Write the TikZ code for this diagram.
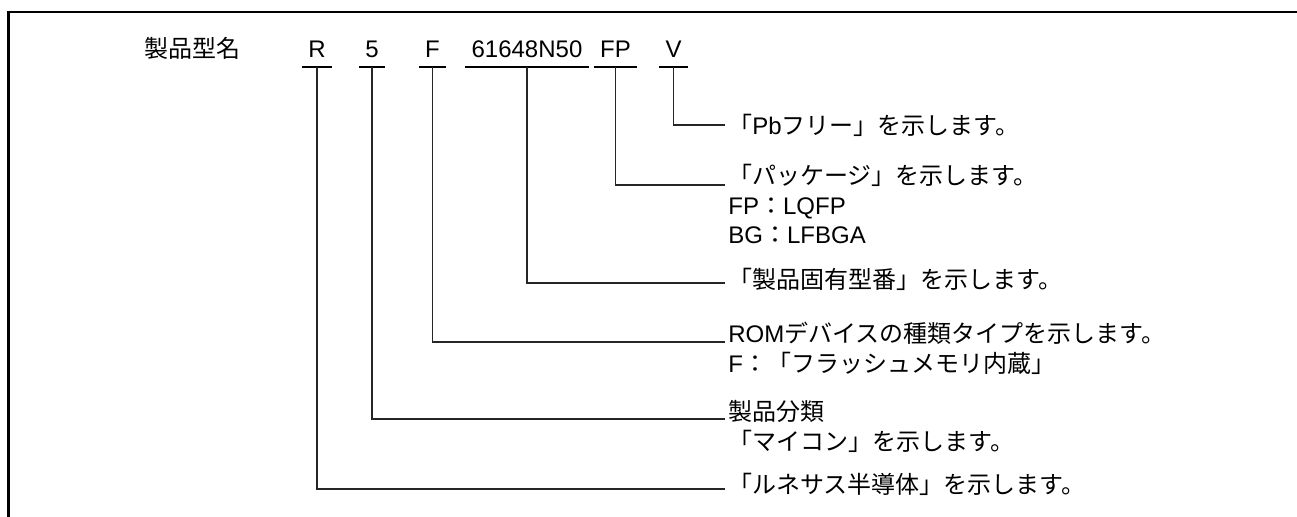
\documentclass[tikz,border=0pt]{standalone}
\usepackage{fontspec}
\setmainfont{Liberation Sans}
\newfontfamily\jpfont{Noto Sans CJK JP}
\newcommand{\ja}[1]{{\jpfont #1}}
\newcommand{\labelfont}{\fontsize{12}{14.75}\selectfont\lineskiplimit=-20pt\relax}

\begin{document}
\begin{tikzpicture}[x=0.5pt, y=-0.5pt,
    % Styles
    every node/.style={inner sep=0pt, font=\labelfont},
    part/.style={anchor=base, inner xsep=2.5pt},
    desc/.style={anchor=base west, align=left},
    bar/.style={line width=1.1pt, line cap=rect},
    lead/.style={line width=0.55pt, color=black!85},
    frame/.style={line width=1.2pt},
  ]
  \useasboundingbox (0,0) rectangle (1297,517);

  % Frame (cut off at right and bottom)
  \draw[frame] (1310,12) -- (8.5,12) -- (8.5,530);

  % Header
  \node[anchor=base] (title) at (192,58) {\ja{製品型名}};

  % Parts of the type name
  \node[part] (pR)   at (317,58)   {R};
  \node[part] (p5)   at (372,58)   {5};
  \node[part] (pF)   at (432.5,58) {F};
  \node[part] (pNum) at (527,58)   {61648N50};
  \node[part] (pFP)  at (615.5,58) {FP};
  \node[part] (pV)   at (673.5,58) {V};

  \foreach \p in {pR, p5, pF, pNum, pFP, pV} {
    \draw[bar] ([yshift=-4.5pt]\p.base west) -- ([yshift=-4.5pt]\p.base east);
    \coordinate (t\p) at ([yshift=-4.5pt]\p.base);
  }

  % Line ends
  \coordinate (eV)   at (725,125);
  \coordinate (eFP)  at (725,185);
  \coordinate (eNum) at (725,283);
  \coordinate (eF)   at (725,342);
  \coordinate (e5)   at (725,419);
  \coordinate (eR)   at (725,489);

  % Descriptions (base = baseline of the last line)
  \node[desc] (dV)   at (728,135)   {\ja{「}Pb\ja{フリー」を示します。}};
  \node[desc] (dFP)  at (728,244)   {\ja{「パッケージ」を示します。}\\FP\ja{：}LQFP\\BG\ja{：}LFBGA};
  \node[desc] (dNum) at (728,289)   {\ja{「製品固有型番」を示します。}};
  \node[desc] (dF)   at (728,372.5) {ROM\ja{デバイスの種類タイプを示します。}\\F\ja{：「フラッシュメモリ内蔵」}};
  \node[desc] (d5)   at (728,450.5) {\ja{製品分類}\\\ja{「マイコン」を示します。}};
  \node[desc] (dR)   at (728,494)   {\ja{「ルネサス半導体」を示します。}};

  % Leaders
  \draw[lead] (tpV)   |- (eV);
  \draw[lead] (tpFP)  |- (eFP);
  \draw[lead] (tpNum) |- (eNum);
  \draw[lead] (tpF)   |- (eF);
  \draw[lead] (tp5)   |- (e5);
  \draw[lead] (tpR)   |- (eR);

\end{tikzpicture}
\end{document}
